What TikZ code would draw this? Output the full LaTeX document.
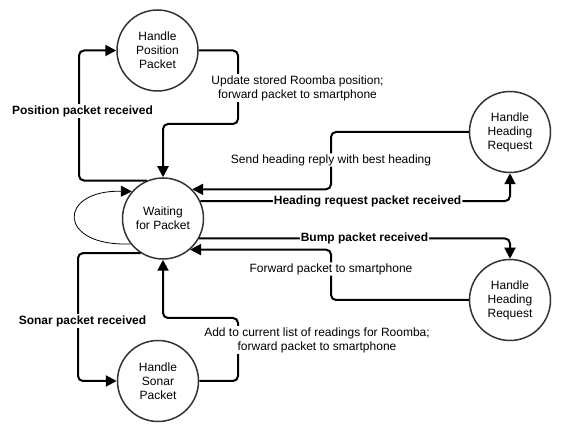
\documentclass[tikz,border=0pt]{standalone}
\usepackage{fontspec}
\setmainfont{Liberation Sans}
\usetikzlibrary{arrows.meta,positioning,calc}
\definecolor{RbInk}{RGB}{0,0,0}
\definecolor{RbRim}{RGB}{51,51,51}
\tikzset{
  rb/state/.style={
    circle,
    draw=RbRim,
    line width=1.5pt,
    fill=white,
    minimum size=81pt,
    inner sep=0pt,
    align=center,
    text=RbInk,
    font=\fontsize{12}{14}\selectfont
  },
  rb/label/.style={
    fill=white,
    align=center,
    inner sep=1pt,
    text=RbInk,
    font=\fontsize{12}{14}\selectfont
  },
  rb/boldlabel/.style={rb/label, font=\fontsize{12}{14}\selectfont\bfseries},
  rb/arrow/.style={-{Triangle[length=11pt,width=11pt]}, line width=2pt, draw=RbInk, rounded corners=5pt},
  rb/loop/.style={-{Triangle[length=11pt,width=11pt]}, line width=0.8pt, draw=RbInk}
}
\begin{document}
\begin{tikzpicture}[x=1pt,y=-1pt]
  \useasboundingbox (0,0) rectangle (565,435);
  \node[rb/state] (pos) at (157.5,50.5) {Handle\\Position\\Packet};
  \node[rb/state] (wait) at (163,218.5) {Waiting\\for Packet};
  \node[rb/state] (sonar) at (158,381) {Handle\\Sonar\\Packet};
  \node[rb/state] (headreq) at (510,132) {Handle\\Heading\\Request};
  \node[rb/state] (bump) at (510,300) {Handle\\Heading\\Request};

  % left side
  \draw[rb/arrow] (wait.113) -| (79,111) |- (pos.west);
  \draw[rb/arrow] (pos.east) -| (238,124) -| (wait.north);
  \draw[rb/arrow] (wait.237) -| (78,321) |- (sonar.west);
  \draw[rb/arrow] (sonar.east) -| (238,318) -| (wait.south);
  \draw[rb/loop] (wait.218) .. controls (57,247) and (57,190) .. (wait.139);
  \node[rb/boldlabel] (lblpos) at (82.5,111) {Position packet received};
  \node[rb/label] (lblupd) at (297.5,88) {Update stored Roomba position;\\forward packet to smartphone};
  \node[rb/boldlabel] (lblsonar) at (82.5,321) {Sonar packet received};
  \node[rb/label] (lbladd) at (317,340) {Add to current list of readings for Roomba;\\forward packet to smartphone};

  % right side
  \draw[rb/arrow] (wait.25) -| (headreq.south) node[rb/boldlabel,pos=0.27] (lblhead) {Heading request packet received};
  \draw[rb/arrow] (headreq.west) -| (331,160) node[rb/label] (lblreply) {Send heading reply with best heading} |- (wait.45);
  \draw[rb/arrow] (wait.-29) -| (bump.north) node[rb/boldlabel,pos=0.266] (lblbump) {Bump packet received};
  \draw[rb/arrow] (bump.west) -| (331,269) node[rb/label] (lblfwd) {Forward packet to smartphone} |- (wait.-49);
\end{tikzpicture}
\end{document}
